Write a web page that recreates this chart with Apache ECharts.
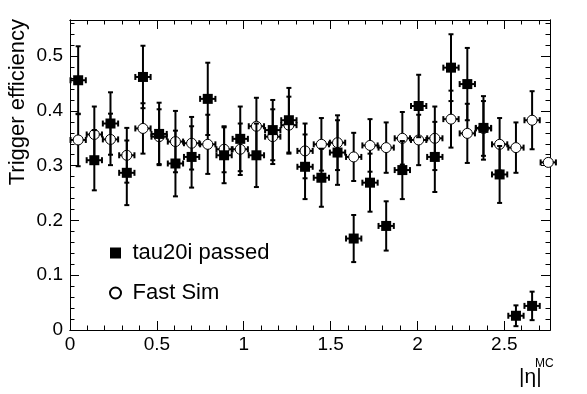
<!DOCTYPE html>
<html><head><meta charset="utf-8">
<script src="https://cdn.jsdelivr.net/npm/echarts@6/dist/echarts.min.js"></script>
<style>html,body{margin:0;padding:0;background:#fff}#c{width:587px;height:394px}</style>
</head><body><div id="c"></div>
<script>
// |eta| bin centres
const etaCenters = [0.047, 0.140, 0.233, 0.327, 0.420, 0.513, 0.607, 0.700, 0.793, 0.887,
                    0.980, 1.073, 1.167, 1.260, 1.353, 1.447, 1.540, 1.633, 1.727, 1.820,
                    1.913, 2.007, 2.100, 2.193, 2.287, 2.380, 2.473, 2.567, 2.660, 2.753];
const etaErr = 0.044;
// tau20i passed
const tauPassed = [0.456, 0.310, 0.377, 0.287, 0.462, 0.358, 0.304, 0.316, 0.422, 0.319,
                   0.349, 0.319, 0.365, 0.383, 0.298, 0.278, 0.324, 0.167, 0.269, 0.190,
                   0.292, 0.409, 0.316, 0.479, 0.449, 0.369, 0.284, 0.026, 0.044];
const tauPassedErr = [0.062, 0.055, 0.057, 0.059, 0.057, 0.057, 0.060, 0.056, 0.066, 0.051,
                      0.059, 0.058, 0.055, 0.059, 0.059, 0.053, 0.059, 0.043, 0.053, 0.045,
                      0.053, 0.057, 0.064, 0.061, 0.066, 0.058, 0.052, 0.019, 0.026];
// Fast Sim
const fastSim = [0.347, 0.357, 0.348, 0.319, 0.368, 0.353, 0.344, 0.341, 0.339, 0.330,
                 0.330, 0.372, 0.353, 0.374, 0.327, 0.339, 0.342, 0.316, 0.337, 0.333,
                 0.350, 0.347, 0.350, 0.385, 0.359, 0.368, 0.339, 0.333, 0.383, 0.306];
const fastSimErr = [0.048, 0.051, 0.047, 0.050, 0.046, 0.050, 0.056, 0.048, 0.054, 0.042,
                    0.047, 0.052, 0.050, 0.052, 0.050, 0.048, 0.050, 0.044, 0.048, 0.046,
                    0.048, 0.046, 0.058, 0.052, 0.054, 0.050, 0.048, 0.046, 0.053, 0.000];

const X_MAX = 2.763, Y_MAX = 0.566;
const FONT = "'Liberation Sans', Arial, Helvetica, sans-serif";

function fmt(v, step) {
  const k = v / step;
  return Math.abs(k - Math.round(k)) < 1e-6 ? String(+v.toFixed(2)) : '';
}
function xAx(pos, interval, len, labels) {
  return {
    type: 'value', position: pos, min: 0, max: X_MAX, interval: interval,
    axisLine: {show: true, onZero: false, lineStyle: {color: '#000', width: 1}},
    axisTick: {show: true, inside: true, length: len, lineStyle: {color: '#000', width: 1}},
    axisLabel: labels ? {show: true, color: '#000', fontSize: 19, fontFamily: FONT, margin: 5,
      showMaxLabel: false, formatter: v => fmt(v, 0.5)} : {show: false},
    splitLine: {show: false}
  };
}
function yAx(pos, interval, len, labels) {
  return {
    type: 'value', position: pos, min: 0, max: Y_MAX, interval: interval,
    axisLine: {show: true, onZero: false, lineStyle: {color: '#000', width: 1}},
    axisTick: {show: true, inside: true, length: len, lineStyle: {color: '#000', width: 1}},
    axisLabel: labels ? {show: true, color: '#000', fontSize: 19, fontFamily: FONT, margin: 7,
      showMaxLabel: false, formatter: v => fmt(v, 0.1)} : {show: false},
    splitLine: {show: false}
  };
}

function errorBars(params, api) {
  const x = api.value(0), y = api.value(1), ey = api.value(2), ex = api.value(3);
  const c = api.coord([x, y]);
  const L = api.coord([x - ex, y])[0], R = api.coord([x + ex, y])[0];
  const st = {stroke: '#000', lineWidth: 2};
  const capH = 3, capV = 2.5;
  const ch = [
    {type: 'line', shape: {x1: L, y1: c[1], x2: R, y2: c[1]}, style: st},
    {type: 'line', shape: {x1: L, y1: c[1] - capH, x2: L, y2: c[1] + capH}, style: st},
    {type: 'line', shape: {x1: R, y1: c[1] - capH, x2: R, y2: c[1] + capH}, style: st}
  ];
  if (ey > 0) {
    const T = api.coord([x, y + ey])[1], B = api.coord([x, y - ey])[1];
    ch.push({type: 'line', shape: {x1: c[0], y1: T, x2: c[0], y2: B}, style: st});
    ch.push({type: 'line', shape: {x1: c[0] - capV, y1: T, x2: c[0] + capV, y2: T}, style: st});
    ch.push({type: 'line', shape: {x1: c[0] - capV, y1: B, x2: c[0] + capV, y2: B}, style: st});
  }
  return {type: 'group', children: ch};
}

const chart = echarts.init(document.getElementById('c'), null, {renderer: 'canvas'});
chart.setOption({
  animation: false,
  backgroundColor: '#fff',
  grid: {left: 70, right: 37, top: 20, bottom: 64, containLabel: false},
  xAxis: [xAx('bottom', 0.5, 9, true), xAx('bottom', 0.1, 4.5, false),
          xAx('top', 0.5, 9, false), xAx('top', 0.1, 4.5, false)],
  yAxis: [yAx('left', 0.1, 9, true), yAx('left', 0.02, 4.5, false),
          yAx('right', 0.1, 9, false), yAx('right', 0.02, 4.5, false)],
  legend: {
    orient: 'vertical', left: 109, top: 242, padding: 0, itemGap: 18,
    itemWidth: 24, itemHeight: 11,
    textStyle: {fontSize: 22, fontFamily: FONT, color: '#000', lineHeight: 22},
    data: [{name: 'tau20i passed', icon: 'path://M0 0H10V10H0Z'}, {name: 'Fast Sim', icon: 'circle'}]
  },
  graphic: [
    {type: 'text', x: 18, y: 19, rotation: Math.PI / 2,
     style: {text: 'Trigger efficiency', fontSize: 22, fontFamily: FONT, fill: '#000', align: 'right', verticalAlign: 'middle'}},
    {type: 'text', x: 519, y: 377,
     style: {text: '|η|', fontSize: 21, fontFamily: FONT, fill: '#000', align: 'left', verticalAlign: 'middle'}},
    {type: 'text', x: 535, y: 358,
     style: {text: 'MC', fontSize: 12, fontFamily: FONT, fill: '#000', align: 'left', verticalAlign: 'top'}}
  ],
  series: [
    {type: 'custom', name: 'fsErr', xAxisIndex: 0, yAxisIndex: 0, z: 1, silent: true, clip: false,
     renderItem: errorBars, encode: {x: 0, y: 1},
     data: etaCenters.map((x, i) => [x, fastSim[i], fastSimErr[i], etaErr])},
    {type: 'scatter', name: 'Fast Sim', xAxisIndex: 0, yAxisIndex: 0, z: 2, clip: false,
     symbol: 'circle', symbolSize: 10,
     itemStyle: {color: '#fff', borderColor: '#000', borderWidth: 1, opacity: 1},
     data: etaCenters.map((x, i) => [x, fastSim[i]])},
    {type: 'custom', name: 'tauErr', xAxisIndex: 0, yAxisIndex: 0, z: 3, silent: true, clip: false,
     renderItem: errorBars, encode: {x: 0, y: 1},
     data: tauPassed.map((v, i) => [etaCenters[i], v, tauPassedErr[i], etaErr])},
    {type: 'scatter', name: 'tau20i passed', xAxisIndex: 0, yAxisIndex: 0, z: 4, clip: false,
     symbol: 'rect', symbolSize: 10,
     itemStyle: {color: '#000', opacity: 1},
     data: tauPassed.map((v, i) => [etaCenters[i], v])}
  ]
});
</script></body></html>
